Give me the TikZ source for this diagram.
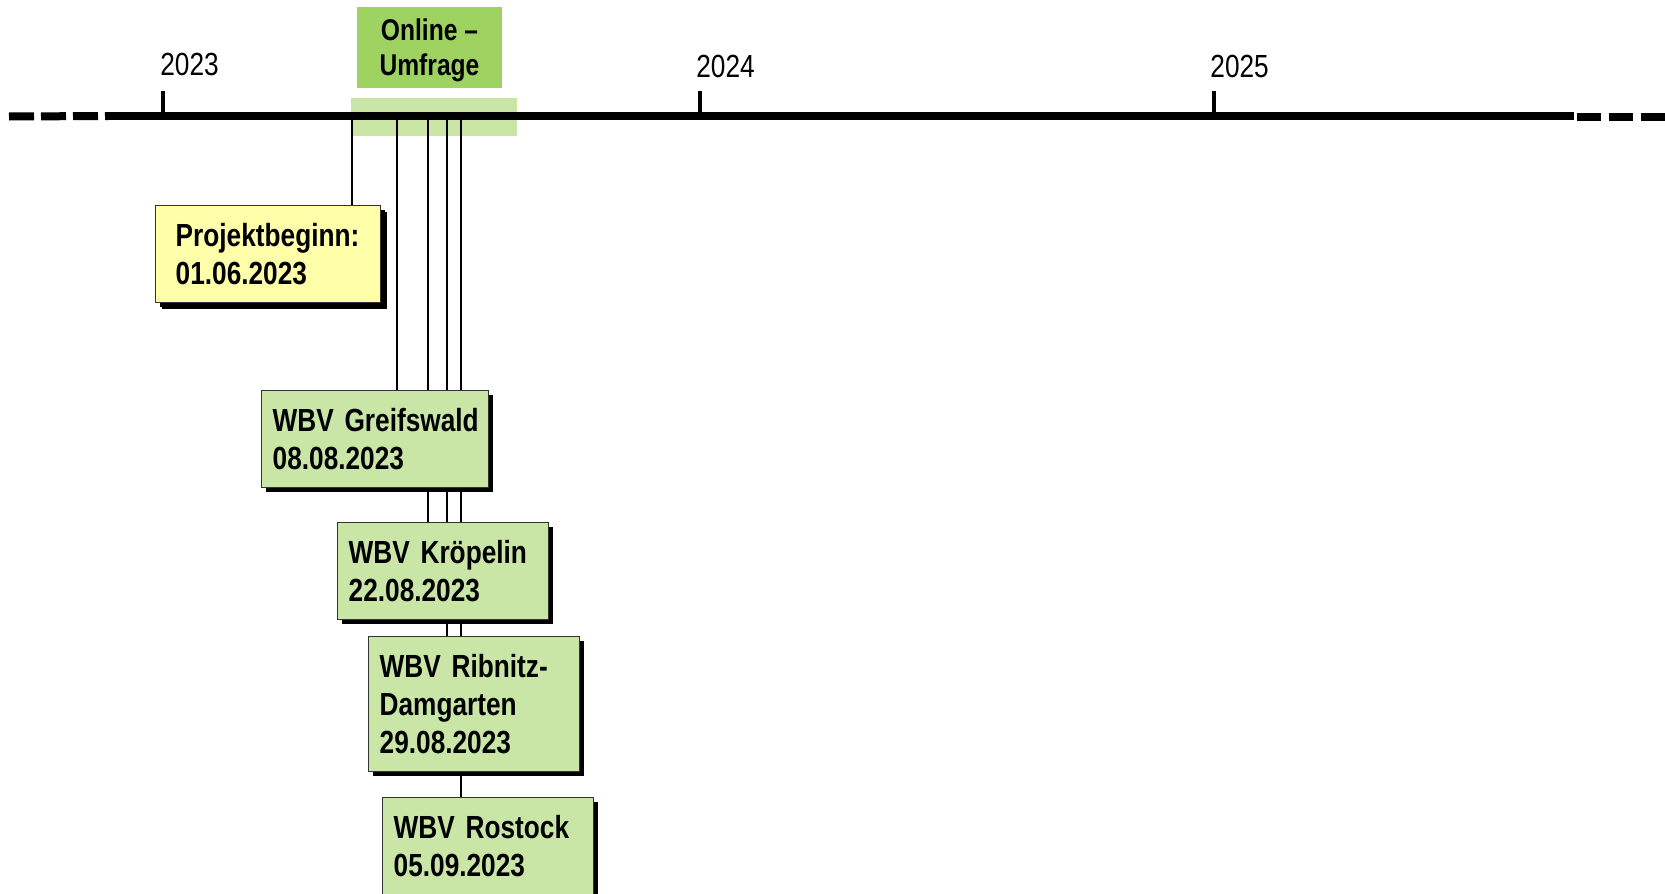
\documentclass[tikz,border=0pt]{standalone}
\usepackage{fontspec}
\setmainfont{Liberation Sans}[FakeStretch=0.82]
\usetikzlibrary{shadows}

\definecolor{eventgreen}{RGB}{201,230,167}
\definecolor{surveygreen}{RGB}{158,211,98}
\definecolor{startyellow}{RGB}{255,255,170}

\pgfdeclarelayer{back}
\pgfsetlayers{back,main}

\tikzset{
  axisline/.style={line width=4pt},
  axisdash/.style={line width=4pt, dash pattern=on 12.5pt off 3.5pt},
  yeartick/.style={line width=2pt},
  yearlabel/.style={anchor=base west, inner sep=0pt, font=\fontsize{16}{18}\selectfont},
  leader/.style={line width=0.7pt},
  eventbox/.style={draw=black!80, line width=0.7pt, anchor=north west, align=left,
    inner xsep=5.5pt, inner ysep=0pt,
    font=\fontsize{16}{19}\selectfont\bfseries,
    drop shadow={shadow xshift=2pt, shadow yshift=-2pt, fill=black, opacity=1}},
  greenevent/.style={eventbox, fill=eventgreen},
}

\begin{document}
\begin{tikzpicture}[x=0.5pt, y=-0.5pt]
\useasboundingbox (0,0) rectangle (1665,894);

% year labels
\node[yearlabel] (y2023) at (160,75) {2023};
\node[yearlabel] (y2024) at (696,77) {2024};
\node[yearlabel] (y2025) at (1210,77) {2025};

% survey period
\node[fill=surveygreen, minimum width=72.5pt, minimum height=40.5pt, inner sep=0pt,
      text depth=0pt, align=center, font=\fontsize{15}{17.5}\selectfont\bfseries]
      (survey) at (429.5,47.5) {Online –\\Umfrage};

% milestones
\node[eventbox, fill=startyellow, inner xsep=10pt, text width=92.5pt, minimum height=48.5pt,
      drop shadow={shadow xshift=3pt, shadow yshift=-3pt, fill=black, opacity=1}]
      (start) at (155,205) {\mbox{Projektbeginn:}\\01.06.2023};
\node[greenevent, text width=102.5pt, minimum height=48.5pt] (greifswald) at (261,390)
      {\mbox{WBV Greifswald}\\08.08.2023};
\node[greenevent, text width=94.5pt, minimum height=48.5pt] (kroepelin) at (337,522)
      {\mbox{WBV Kröpelin}\\22.08.2023};
\node[greenevent, text width=94.5pt, minimum height=67.5pt] (ribnitz) at (368,636)
      {\mbox{WBV Ribnitz-}\\\mbox{Damgarten}\\29.08.2023};
\node[greenevent, text width=94.5pt, minimum height=48.5pt] (rostock) at (382,797)
      {\mbox{WBV Rostock}\\05.09.2023};

% points on the time axis
\coordinate (axL) at (9,116.5);
\coordinate (axA) at (109,116);
\coordinate (axB) at (1574,116);
\coordinate (axR) at (1577,117);
\coordinate (axE) at (1665,117);
\coordinate (t2023) at (163,116);
\coordinate (t2024) at (700,116);
\coordinate (t2025) at (1214,116);
\coordinate (dStart) at (352,116);
\coordinate (dGreifswald) at (397,116);
\coordinate (dKroepelin) at (428,116);
\coordinate (dRibnitz) at (447,116);
\coordinate (dRostock) at (461,116);

\begin{pgfonlayer}{back}
  % survey band on the axis
  \fill[eventgreen] (351,98) rectangle (517,136);
  % leader lines from the axis to the boxes
  \draw[leader] (dStart) -- (dStart |- start.north);
  \draw[leader] (dGreifswald) -- (dGreifswald |- greifswald.north);
  \draw[leader] (dKroepelin) -- (dKroepelin |- kroepelin.north);
  \draw[leader] (dRibnitz) -- (dRibnitz |- ribnitz.north);
  \draw[leader] (dRostock) -- (dRostock |- rostock.north);
  % time axis
  \draw[axisdash] (axL) -- (axA);
  \draw[axisline] (axA) -- (axB);
  \draw[axisline, dash pattern=on 12pt off 4pt] (axR) -- (axE);
  \draw[yeartick] (t2023) -- ++(0,-25);
  \draw[yeartick] (t2024) -- ++(0,-25);
  \draw[yeartick] (t2025) -- ++(0,-25);
\end{pgfonlayer}
\end{tikzpicture}
\end{document}
